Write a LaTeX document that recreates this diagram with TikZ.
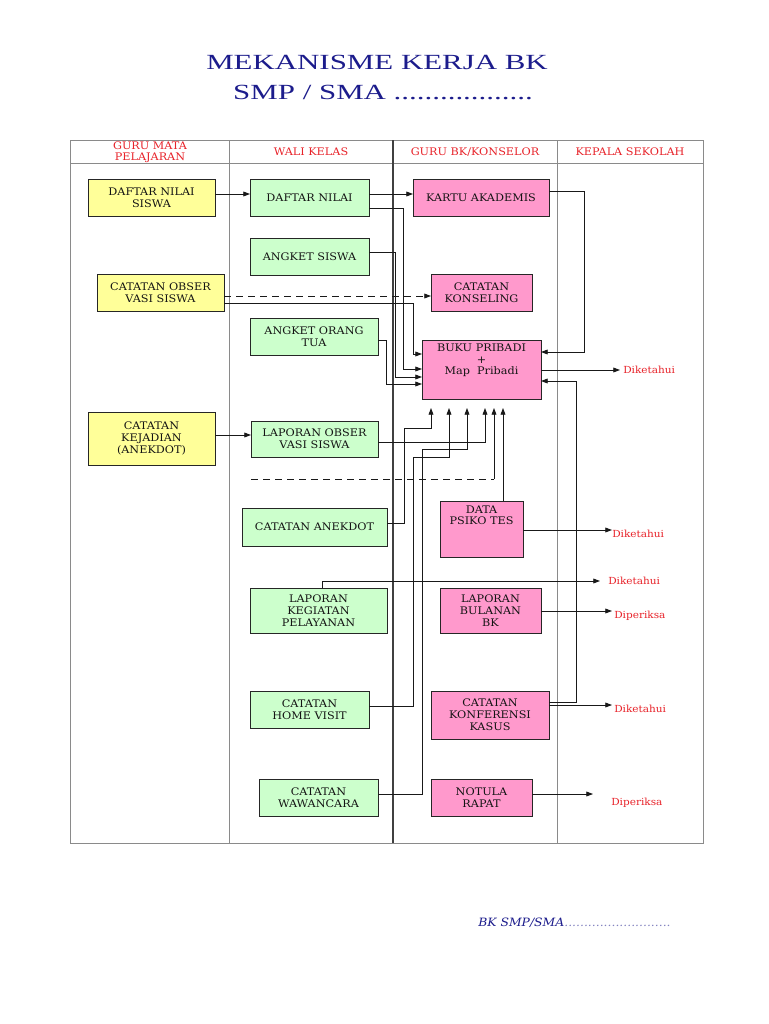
\documentclass[tikz,border=0pt]{standalone}
\usepackage{fontspec}
\setmainfont{DejaVu Serif}
\newfontfamily\titlefont[FakeStretch=1.43]{Liberation Serif}
\newfontfamily\boxfont[FakeStretch=1.08]{DejaVu Serif}
\usetikzlibrary{arrows.meta,calc}
\definecolor{ylw}{HTML}{FFFF99}
\definecolor{grn}{HTML}{CCFFCC}
\definecolor{pnk}{HTML}{FF99CC}
\definecolor{navy}{HTML}{1C1C8C}
\definecolor{hred}{HTML}{E8232A}
\definecolor{tgray}{HTML}{8A8A8A}
\newcommand\bx[7]{\node[box,#6,minimum width={(#4-#2)*0.75pt},minimum height={(#5-#3)*0.75pt}] (#1) at ({(#2+#4)/2},{(#3+#5)/2}) {#7};}
\begin{document}
\begin{tikzpicture}[x=0.75pt,y=-0.75pt,
  box/.style={draw=black!85, line width=0.6pt, inner sep=1pt, outer sep=0pt, align=center,
    font=\boxfont\fontsize{7.8}{9}\selectfont, text=black!92},
  txt/.style={inner sep=0pt, align=center, font=\boxfont\fontsize{7.8}{8.6}\selectfont, text=black!92},
  lbl/.style={text=hred, font=\boxfont\fontsize{7.3}{9}\selectfont, inner sep=0pt, anchor=west},
  hdr/.style={text=hred, font=\boxfont\fontsize{7.8}{8.3}\selectfont, inner sep=0pt, align=center},
  con/.style={line width=0.6pt, draw=black!90},
  arr/.style={con, -{Triangle[length=5pt,width=3.6pt]}},
  dsh/.style={con, dash pattern=on 5.5pt off 3.5pt},
  tline/.style={draw=tgray, line width=0.7pt}
]
\useasboundingbox (0,0) rectangle (768,1024);
\fill[white] (0,0) rectangle (768,1024);

% title
\node[text=navy, font=\titlefont\fontsize{16.2}{19}\selectfont, inner sep=0pt] (t1) at (377,62) {MEKANISME KERJA BK};
\node[text=navy, font=\titlefont\fontsize{16.2}{19}\selectfont, inner sep=0pt] (t2) at (383,93) {SMP / SMA ..................};

% table
\draw[tline] (70,140) rectangle (703,843);
\draw[tline] (70,163) -- (703,163);
\draw[tline] (229,140) -- (229,843);
\draw[tline] (557,140) -- (557,843);
\draw[draw=black!75, line width=1.4pt] (393,140) -- (393,843);

\node[hdr] (h1) at (150,152) {GURU MATA\\PELAJARAN};
\node[hdr] (h2) at (311,152) {WALI KELAS};
\node[hdr] (h3) at (475,152) {GURU BK/KONSELOR};
\node[hdr] (h4) at (630,152) {KEPALA SEKOLAH};

% boxes
\bx{dns}{88}{179}{215}{216}{fill=ylw}{DAFTAR NILAI\\SISWA}
\bx{dn}{250}{179}{369}{216}{fill=grn}{DAFTAR NILAI}
\bx{ka}{413}{179}{549}{216}{fill=pnk}{KARTU AKADEMIS}
\bx{as}{250}{238}{369}{275}{fill=grn}{ANGKET SISWA}
\bx{co}{97}{274}{224}{311}{fill=ylw}{CATATAN OBSER\\VASI SISWA}
\bx{ck}{431}{274}{532}{311}{fill=pnk}{CATATAN\\KONSELING}
\bx{aot}{250}{318}{378}{355}{fill=grn}{ANGKET ORANG\\TUA}
\bx{bp}{422}{340}{541}{399}{fill=pnk}{}
\node[txt, anchor=north] (bpt) at ([yshift=-3pt]bp.north) {BUKU PRIBADI\\+\\Map\ \ Pribadi};
\bx{ckj}{88}{412}{215}{465}{fill=ylw}{CATATAN\\KEJADIAN\\(ANEKDOT)}
\bx{lo}{251}{421}{378}{457}{fill=grn}{LAPORAN OBSER\\VASI SISWA}
\bx{can}{242}{508}{387}{546}{fill=grn}{CATATAN ANEKDOT}
\bx{dpt}{440}{501}{523}{557}{fill=pnk}{}
\node[txt, anchor=north] (dptt) at ([yshift=-3.5pt]dpt.north) {DATA\\PSIKO TES};
\bx{lkp}{250}{588}{387}{633}{fill=grn}{LAPORAN\\KEGIATAN\\PELAYANAN}
\bx{lbb}{440}{588}{541}{633}{fill=pnk}{LAPORAN\\BULANAN\\BK}
\bx{chv}{250}{691}{369}{728}{fill=grn}{CATATAN\\HOME VISIT}
\bx{ckk}{431}{691}{549}{739}{fill=pnk}{CATATAN\\KONFERENSI\\KASUS}
\bx{cw}{259}{779}{378}{816}{fill=grn}{CATATAN\\WAWANCARA}
\bx{nr}{431}{779}{532}{816}{fill=pnk}{NOTULA\\RAPAT}

% free ends
\coordinate (e1) at (620,370);
\coordinate (e2) at (612,530);
\coordinate (e3) at (600,581);
\coordinate (e4) at (612,611);
\coordinate (e5) at (612,705);
\coordinate (e6) at (593,794);
\coordinate (b1) at (431,408);
\coordinate (b2) at (449,408);
\coordinate (b3) at (467,408);
\coordinate (b4) at (485,408);
\coordinate (b5) at (494,408);
\coordinate (b6) at (503,408);
\coordinate (ds) at (251,479);

% connectors
\draw[arr] (dns.east |- 0,194) -- (dn.west |- 0,194);
\draw[arr] (dn.east |- 0,194) -- (ka.west |- 0,194);
\draw[arr] (dn.east |- 0,208) -| (403,369) -- (bp.west |- 0,369);
\draw[arr] (as.east |- 0,252) -| (395,377) -- (bp.west |- 0,377);
\draw[dsh, -{Triangle[length=5pt,width=3.6pt]}] (co.east |- 0,296) -- (ck.west |- 0,296);
\draw[arr] (co.east |- 0,303) -| (413,354) -- (bp.west |- 0,354);
\draw[arr] (aot.east |- 0,340) -| (386,384) -- (bp.west |- 0,384);
\draw[arr] (ka.east |- 0,191) -| (584,352) -- (bp.east |- 0,352);
\draw[arr] (bp.east |- 0,370) -- (e1);
\draw[arr] (ckk.east |- 0,702) -| (576,381) -- (bp.east |- 0,381);
\draw[arr] (ckk.east |- 0,705) -- (e5);
\draw[arr] (ckj.east |- 0,435) -- (lo.west |- 0,435);
\draw[arr] (lo.east |- 0,442) -| (b4);
\draw[arr] (can.east |- 0,523) -| (404,428) -| (b1);
\draw[arr] (chv.east |- 0,706) -| (413,457) -| (b2);
\draw[arr] (cw.east |- 0,794) -| (422,449) -| (b3);
\draw[dsh] (ds) -- (b5 |- ds);
\draw[arr] (b5 |- ds) -- (b5);
\draw[arr] (b6 |- dpt.north) -- (b6);
\draw[arr] (dpt.east |- 0,530) -- (e2);
\draw[arr] (322,0 |- lkp.north) |- (e3);
\draw[arr] (lbb.east |- 0,611) -- (e4);
\draw[arr] (nr.east |- 0,794) -- (e6);

% labels
\node[lbl] (d1) at (623,370) {Diketahui};
\node[lbl] (d2) at (612,534) {Diketahui};
\node[lbl] (d3) at (608,581) {Diketahui};
\node[lbl] (d4) at (614,616) {Diperiksa};
\node[lbl] (d5) at (614,709) {Diketahui};
\node[lbl] (d6) at (611,803) {Diperiksa};

% footer
\node[anchor=west, inner sep=0pt, text=navy, font=\boxfont\itshape\fontsize{8.6}{10}\selectfont] (ft) at (478,923) {BK SMP/SMA\textcolor{navy!55}{...........................}};
\end{tikzpicture}
\end{document}
